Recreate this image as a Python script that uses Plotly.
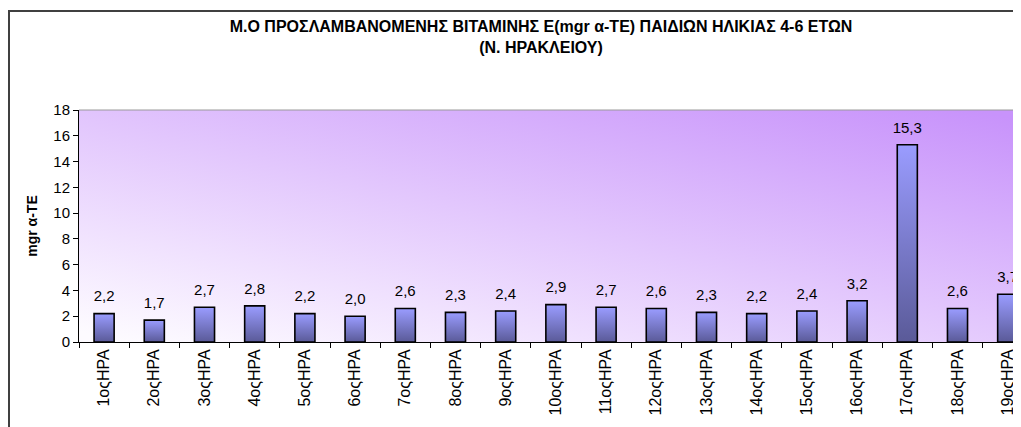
import base64
import plotly.graph_objects as go

# ημέρες καταγραφής και μέση πρόσληψη βιταμίνης Ε (mgr α-TE)
imeres = ["1οςΗΡΑ", "2οςΗΡΑ", "3οςΗΡΑ", "4οςΗΡΑ", "5οςΗΡΑ", "6οςΗΡΑ", "7οςΗΡΑ",
          "8οςΗΡΑ", "9οςΗΡΑ", "10οςΗΡΑ", "11οςΗΡΑ", "12οςΗΡΑ", "13οςΗΡΑ",
          "14οςΗΡΑ", "15οςΗΡΑ", "16οςΗΡΑ", "17οςΗΡΑ", "18οςΗΡΑ", "19οςΗΡΑ"]
vitamini_e = [2.2, 1.7, 2.7, 2.8, 2.2, 2.0, 2.6, 2.3, 2.4, 2.9,
              2.7, 2.6, 2.3, 2.2, 2.4, 3.2, 15.3, 2.6, 3.7]
y_ticks = [0, 2, 4, 6, 8, 10, 12, 14, 16, 18]

titlos = ("Μ.Ο ΠΡΟΣΛΑΜΒΑΝΟΜΕΝΗΣ ΒΙΤΑΜΙΝΗΣ Ε(mgr α-ΤΕ) ΠΑΙΔΙΩΝ ΗΛΙΚΙΑΣ 4-6 ΕΤΩΝ"
          "<br>(Ν. ΗΡΑΚΛΕΙΟΥ)")

FONT = "Liberation Sans, Arial, sans-serif"
# η σελίδα έχει περιθώριο 8px, άρα το σχήμα ξεκινά στο (8, 8)
W, H = 1013, 419
L, T, B = 71, 102, 85


def svg_uri(svg):
    return "data:image/svg+xml;base64," + base64.b64encode(svg.encode()).decode()


def gradient(x1, y1, x2, y2, c1, c2):
    svg = ("<svg xmlns='http://www.w3.org/2000/svg' width='100' height='100' "
           "viewBox='0 0 100 100' preserveAspectRatio='none'><defs>"
           f"<linearGradient id='g' x1='{x1}' y1='{y1}' x2='{x2}' y2='{y2}'>"
           f"<stop offset='0' stop-color='{c1}'/><stop offset='1' stop-color='{c2}'/>"
           "</linearGradient></defs><rect width='100' height='100' fill='url(#g)'/></svg>")
    return svg_uri(svg)


# px -> paper coords (για το πλαίσιο)
pw, ph = W - L, H - T - B
def px(x):
    return (x - L) / pw
def py(y):
    return (H - B - y) / ph


etiketes = [f"{v:.1f}".replace(".", ",") for v in vitamini_e]

fig = go.Figure()
fig.add_trace(go.Bar(
    x=imeres, y=vitamini_e, width=0.4,
    marker=dict(color="rgba(0,0,0,0)", line=dict(color="#000000", width=1.6)),
    hoverinfo="x+y"))
fig.add_trace(go.Scatter(
    x=imeres, y=vitamini_e, mode="markers+text", text=etiketes,
    textposition="top center", marker=dict(size=12, opacity=0), cliponaxis=False,
    textfont=dict(family=FONT, size=15, color="#000000"), hoverinfo="skip"))

# φόντο περιοχής γραφήματος (διαβάθμιση)
fig.add_layout_image(source=gradient(0.05, 1, 0.95, 0, "#fdfbff", "#c893fb"),
                     xref="paper", yref="paper", x=0, y=1, sizex=1, sizey=1,
                     xanchor="left", yanchor="top", sizing="stretch", layer="below")

# διαβάθμιση στις μπάρες
bar_img = gradient(0, 0, 0, 1, "#9a9cff", "#5a5a98")
for i, v in enumerate(vitamini_e):
    fig.add_layout_image(source=bar_img, xref="x", yref="y", x=i - 0.2, y=v,
                         sizex=0.4, sizey=v, xanchor="left", yanchor="top",
                         sizing="stretch", layer="below")

frame = "#404040"
fig.add_shape(type="rect", xref="paper", yref="paper",
              x0=px(1), y0=py(440), x1=px(1040), y1=py(3),
              line=dict(color=frame, width=2))
fig.add_shape(type="line", xref="paper", yref="paper", x0=0, x1=1, y0=1, y1=1,
              line=dict(color="#9a9a9a", width=1))

fig.update_layout(
    width=W, height=H,
    margin=dict(l=L, r=0, t=T, b=B),
    paper_bgcolor="white", plot_bgcolor="rgba(0,0,0,0)",
    showlegend=False, bargap=0.6,
    font=dict(family=FONT, size=15, color="#000000"),
    title=dict(text=titlos, x=533 / W, xanchor="center", y=1 - 24 / H, yanchor="top",
               font=dict(family=FONT, size=16, color="#000000", weight="bold")),
    xaxis=dict(type="category", range=[-0.5, -0.5 + pw / 50.2],
               showline=True, linecolor="#000000", linewidth=1,
               ticks="outside", ticklen=5, tickcolor="#000000", tickson="boundaries",
               tickangle=-90, tickfont=dict(size=16), showgrid=False, zeroline=False),
    yaxis=dict(range=[0, 18], tickvals=y_ticks, showline=True, linecolor="#000000",
               linewidth=1, ticks="outside", ticklen=5, tickcolor="#000000",
               tickfont=dict(size=15), showgrid=False, zeroline=False,
               title=dict(text="<b>mgr α-ΤΕ</b>", font=dict(size=14), standoff=12)),
)

fig.write_html("out.html")
